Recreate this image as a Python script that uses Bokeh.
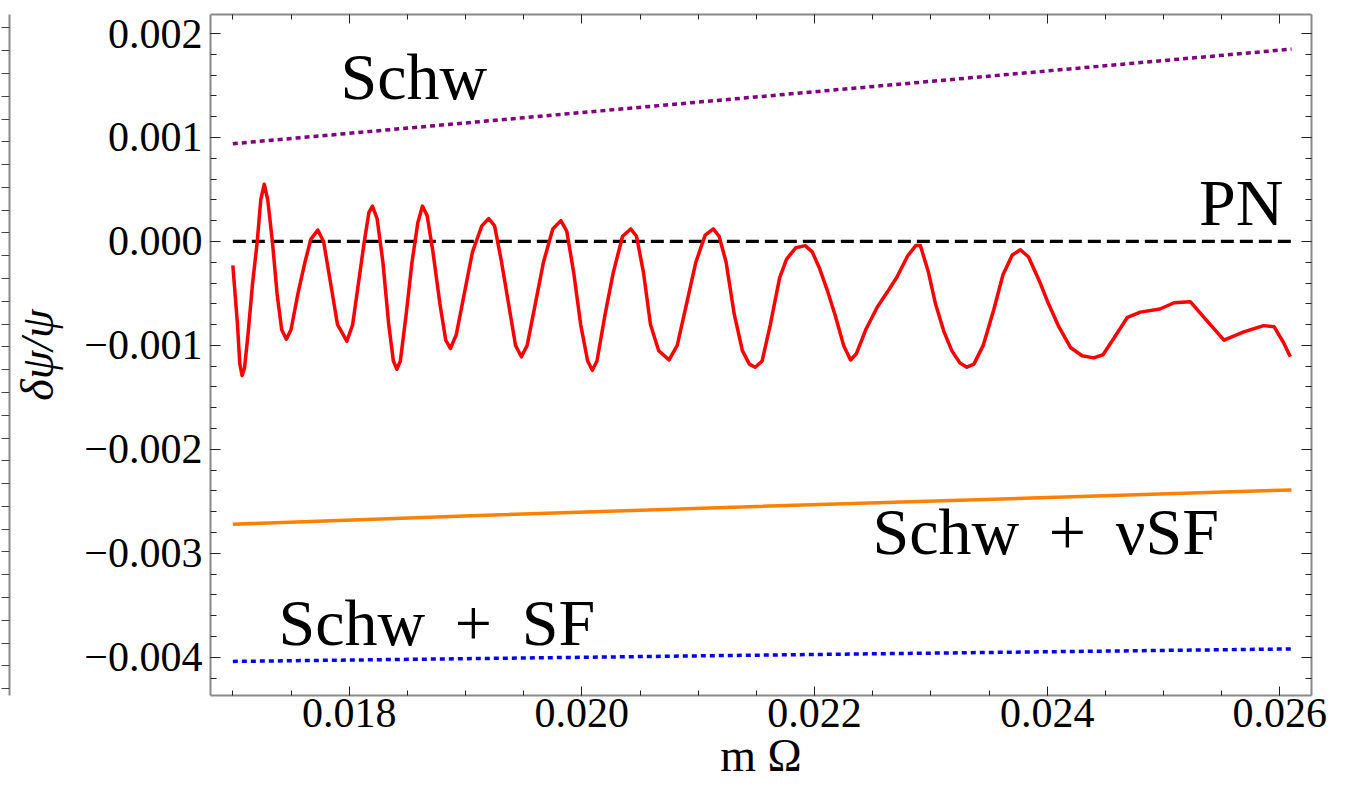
from bokeh.plotting import figure
from bokeh.models import (Range1d, LinearAxis, SingleIntervalTicker,
                          CustomJSTickFormatter, Label)
from bokeh.embed import file_html
from bokeh.resources import INLINE

# ---------------- data ----------------
schw_x = [0.0170, 0.0190, 0.0210, 0.0230, 0.0261]
schw_y = [0.00094, 0.00114, 0.00134, 0.00154, 0.00185]

pn_x = [0.0170, 0.0261]
pn_y = [0.0, 0.0]

nusf_x = [0.0170, 0.0193, 0.0215, 0.0238, 0.0261]
nusf_y = [-0.00272, -0.00263, -0.00255, -0.00247, -0.00239]

sf_x = [0.0170, 0.0193, 0.0215, 0.0238, 0.0261]
sf_y = [-0.00404, -0.00401, -0.00398, -0.00395, -0.00392]

red_x = [0.01700, 0.01704, 0.01706, 0.01708, 0.01710, 0.01713, 0.01717, 0.01721,
         0.01724, 0.01727, 0.01730, 0.01734, 0.01738, 0.01742, 0.01746, 0.01750,
         0.01756, 0.01762, 0.01767, 0.01773, 0.01778, 0.01784, 0.01790, 0.01798,
         0.01803, 0.01808, 0.01813, 0.01817, 0.01820, 0.01824, 0.01829, 0.01834,
         0.01838, 0.01841, 0.01844, 0.01849, 0.01854, 0.01859, 0.01863, 0.01867,
         0.01872, 0.01878, 0.01883, 0.01887, 0.01892, 0.01899, 0.01906, 0.01914,
         0.01920, 0.01925, 0.01931, 0.01937, 0.01943, 0.01948, 0.01953, 0.01960,
         0.01967, 0.01975, 0.01982, 0.01987, 0.01993, 0.01999, 0.02005, 0.02009,
         0.02013, 0.02020, 0.02027, 0.02035, 0.02042, 0.02047, 0.02053, 0.02059,
         0.02066, 0.02075, 0.02082, 0.02090, 0.02098, 0.02106, 0.02113, 0.02118,
         0.02124, 0.02131, 0.02138, 0.02144, 0.02149, 0.02155, 0.02162, 0.02170,
         0.02176, 0.02184, 0.02192, 0.02198, 0.02204, 0.02211, 0.02218, 0.02225,
         0.02231, 0.02236, 0.02244, 0.02254, 0.02263, 0.02271, 0.02280, 0.02287,
         0.02291, 0.02298, 0.02304, 0.02311, 0.02318, 0.02325, 0.02331, 0.02337,
         0.02345, 0.02354, 0.02362, 0.02370, 0.02377, 0.02384, 0.02394, 0.02400,
         0.02410, 0.02420, 0.02430, 0.02440, 0.02448, 0.02458, 0.02469, 0.02480,
         0.02497, 0.02509, 0.02523, 0.02537, 0.02552, 0.02569, 0.02586, 0.02595,
         0.02603, 0.02609]
red_y = [-0.00023, -0.00080, -0.00118, -0.00129, -0.00122, -0.00090, -0.00040, 0.00000,
         0.00040, 0.00055, 0.00040, 0.00000, -0.00050, -0.00085, -0.00094, -0.00085,
         -0.00050, -0.00020, 0.00002, 0.00011, 0.00000, -0.00040, -0.00080, -0.00096,
         -0.00080, -0.00040, 0.00000, 0.00028, 0.00034, 0.00022, -0.00020, -0.00080,
         -0.00115, -0.00123, -0.00115, -0.00070, -0.00020, 0.00018, 0.00034, 0.00025,
         -0.00010, -0.00060, -0.00095, -0.00103, -0.00090, -0.00050, -0.00010, 0.00015,
         0.00022, 0.00015, -0.00020, -0.00060, -0.00100, -0.00111, -0.00100, -0.00060,
         -0.00020, 0.00012, 0.00020, 0.00010, -0.00030, -0.00080, -0.00115, -0.00124,
         -0.00115, -0.00070, -0.00030, 0.00005, 0.00012, 0.00005, -0.00030, -0.00080,
         -0.00105, -0.00114, -0.00100, -0.00060, -0.00020, 0.00006, 0.00012, 0.00005,
         -0.00020, -0.00070, -0.00105, -0.00118, -0.00121, -0.00115, -0.00080, -0.00035,
         -0.00017, -0.00006, -0.00004, -0.00010, -0.00025, -0.00047, -0.00072, -0.00100,
         -0.00114, -0.00108, -0.00085, -0.00063, -0.00048, -0.00034, -0.00014, -0.00004,
         -0.00004, -0.00030, -0.00060, -0.00086, -0.00105, -0.00117, -0.00121, -0.00118,
         -0.00100, -0.00066, -0.00032, -0.00013, -0.00008, -0.00015, -0.00040, -0.00057,
         -0.00082, -0.00102, -0.00110, -0.00112, -0.00109, -0.00092, -0.00073, -0.00068,
         -0.00065, -0.00059, -0.00058, -0.00076, -0.00095, -0.00087, -0.00081, -0.00082,
         -0.00097, -0.00111]

# ---------------- figure ----------------
SERIF = "Liberation Serif"

p = figure(width=1359, height=798,
           x_range=Range1d(0.016808, 0.026272),
           y_range=Range1d(-0.004368, 0.002183),
           output_backend="svg", toolbar_location=None,
           min_border_left=210, min_border_right=48,
           min_border_top=14, min_border_bottom=103,
           x_axis_type=None, y_axis_type=None,
           background_fill_color="white", border_fill_color="white",
           outline_line_color=None)
p.xgrid.visible = False
p.ygrid.visible = False

fmt = CustomJSTickFormatter(code="""
const a = Math.abs(tick);
if (a < 1e-12) { return "0.000"; }
return (tick < 0 ? "\u2212" : "") + a.toFixed(3);
""")
blank_fmt = CustomJSTickFormatter(code='return "";')


def style_axis(ax, show_labels, is_x):
    ax.axis_line_color = "#8a8a8a"
    ax.axis_line_width = 2
    ax.major_tick_line_color = "#222222"
    ax.minor_tick_line_color = "#222222"
    ax.major_tick_line_width = 1
    ax.minor_tick_line_width = 1
    ax.major_tick_out = 0
    ax.minor_tick_out = 0
    ax.major_tick_in = 9 if is_x else 10
    ax.minor_tick_in = 5 if is_x else 6
    if show_labels:
        ax.formatter = fmt
        ax.major_label_text_font = SERIF
        ax.major_label_text_font_size = "42px"
        ax.major_label_text_color = "black"
        ax.major_label_standoff = 3 if is_x else 8
    else:
        ax.formatter = blank_fmt
        ax.major_label_text_font_size = "2px"
        ax.major_label_standoff = 0
        ax.axis_label_standoff = 0


xb = LinearAxis(ticker=SingleIntervalTicker(interval=0.002, num_minor_ticks=4))
style_axis(xb, True, True)
xb.axis_label = "m \u03a9"
xb.axis_label_text_font = SERIF
xb.axis_label_text_font_style = "normal"
xb.axis_label_text_font_size = "46px"
xb.axis_label_text_color = "black"
xb.axis_label_standoff = 0
p.add_layout(xb, "below")

xt = LinearAxis(ticker=SingleIntervalTicker(interval=0.002, num_minor_ticks=4))
style_axis(xt, False, True)
p.add_layout(xt, "above")

yl = LinearAxis(ticker=SingleIntervalTicker(interval=0.001, num_minor_ticks=5))
style_axis(yl, True, False)
yl.axis_label = "\u03b4\u03c8/\u03c8"
yl.axis_label_text_font = SERIF
yl.axis_label_text_font_style = "italic"
yl.axis_label_text_font_size = "46px"
yl.axis_label_text_color = "black"
yl.axis_label_standoff = 18
p.add_layout(yl, "left")

# edge of the neighbouring panel that is cut off at the picture's left border
p.extra_y_ranges = {"neighbour": Range1d(-0.3, 29.59)}
yn = LinearAxis(y_range_name="neighbour",
                ticker=SingleIntervalTicker(interval=1, num_minor_ticks=0))
yn.axis_line_color = "#8a8a8a"
yn.axis_line_width = 2
yn.major_tick_line_color = "#444444"
yn.major_tick_in = 0
yn.major_tick_out = 8
yn.formatter = blank_fmt
yn.major_label_text_font_size = "2px"
yn.major_label_standoff = 0
p.add_layout(yn, "left")

yr = LinearAxis(ticker=SingleIntervalTicker(interval=0.001, num_minor_ticks=5))
style_axis(yr, False, False)
p.add_layout(yr, "right")

# ---------------- curves ----------------
p.line(schw_x, schw_y, line_color="#800080", line_width=3.5, line_dash="5 4")
p.line(pn_x, pn_y, line_color="black", line_width=3.2, line_dash="13 6")
p.line(red_x, red_y, line_color="#ff0000", line_width=3.5, line_join="round")
p.line(nusf_x, nusf_y, line_color="#ff8000", line_width=3.5)
p.line(sf_x, sf_y, line_color="#0000ff", line_width=3.5, line_dash="5 4")

# ---------------- text labels ----------------
def add_label(x, y, text, size="66px", align="left"):
    p.add_layout(Label(x=x, y=y, text=text, text_font=SERIF, text_font_size=size,
                       text_color="black", text_align=align,
                       text_baseline="alphabetic"))


TS = "\u2009"  # thin space, for TeX-like spacing around '+'
add_label(0.017925, 0.001587, "Schw")
add_label(0.026030, 0.000375, "PN", align="right")
add_label(0.022498, -0.002788, "Schw" + TS + " + " + TS + "\u03bdSF")
add_label(0.017392, -0.003663, "Schw" + TS + " + " + TS + "SF")

open("out.html", "w").write(file_html(p, INLINE, title="delta psi"))
